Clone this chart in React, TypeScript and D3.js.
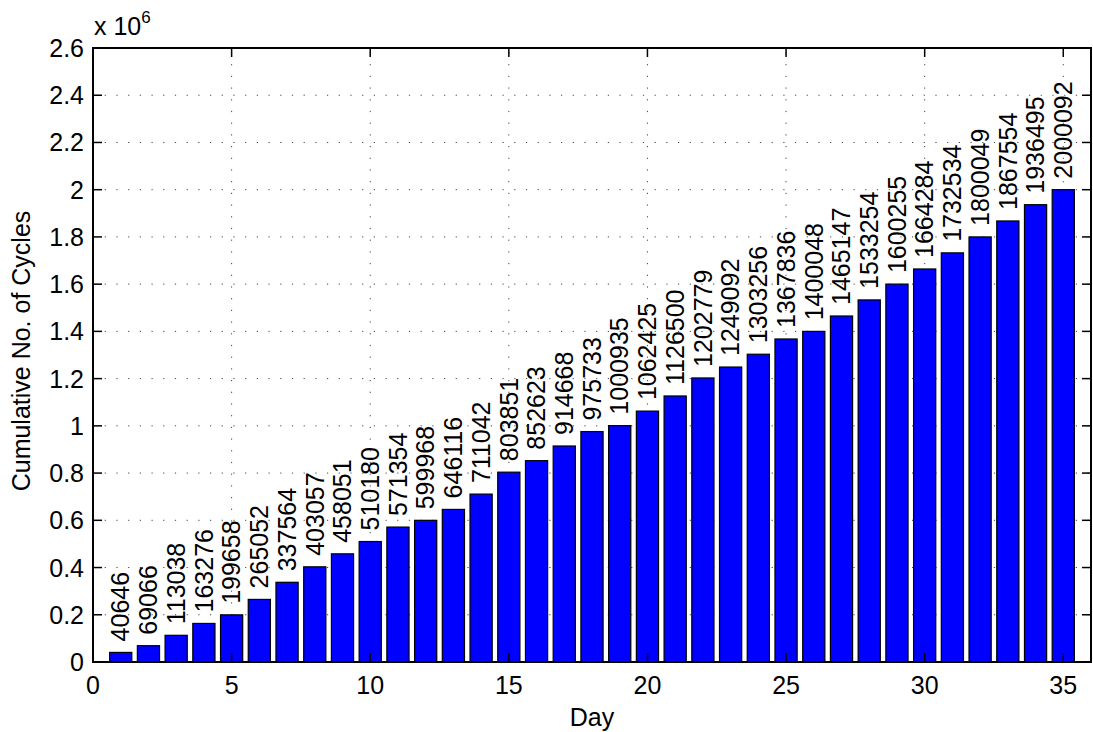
import React from "react";
import * as d3 from "d3";

// Cumulative cycle counts per day
const days: number[] = d3.range(1, 36);
const cycles: number[] = [
  40646, 69066, 113038, 163276, 199658, 265052, 337564, 403057, 458051, 510180,
  571354, 599968, 646116, 711042, 803851, 852623, 914668, 975733, 1000935, 1062425,
  1126500, 1202779, 1249092, 1303256, 1367836, 1400048, 1465147, 1533254, 1600255, 1664284,
  1732534, 1800049, 1867554, 1936495, 2000092,
];
const xTicks: number[] = [0, 5, 10, 15, 20, 25, 30, 35];
const yTicks: number[] = d3.range(0, 2.61, 0.2).map((v) => +v.toFixed(1));

const W = 1093;
const H = 732;
const M = { left: 93, right: 1091, top: 48, bottom: 662 };
const FONT = "'Liberation Sans', Arial, Helvetica, sans-serif";
const FS = 25;
const SCALE = 1e6;
const BAR_WIDTH = 0.8;

export default function App() {
  const x = d3.scaleLinear().domain([0, 36]).range([M.left, M.right]);
  const y = d3.scaleLinear().domain([0, 2.6]).range([M.bottom, M.top]);
  const halfBar = (x(BAR_WIDTH) - x(0)) / 2;
  const tickLen = 9;
  const gridStyle = { stroke: "#444", strokeWidth: 1, strokeDasharray: "1.2 10.5" };

  return (
    <svg
      width={W}
      height={H}
      style={{ position: "absolute", left: 0, top: 0, background: "#fff", display: "block" }}
      fontFamily={FONT}
    >
      <rect x={0} y={0} width={W} height={H} fill="#fff" />

      {/* dotted grid */}
      {xTicks.map((t) => (
        <line key={"gx" + t} x1={x(t)} x2={x(t)} y1={M.bottom} y2={M.top} style={gridStyle} />
      ))}
      {yTicks.map((t) => (
        <line key={"gy" + t} x1={M.left} x2={M.right} y1={y(t)} y2={y(t)} style={gridStyle} />
      ))}

      {/* bars */}
      {days.map((d, i) => (
        <rect
          key={"b" + d}
          x={x(d) - halfBar}
          y={y(cycles[i] / SCALE)}
          width={halfBar * 2}
          height={M.bottom - y(cycles[i] / SCALE)}
          fill="#0000ff"
          stroke="#000"
          strokeWidth={1.2}
        />
      ))}

      {/* value labels above bars */}
      {days.map((d, i) => {
        const px = x(d);
        const py = y(cycles[i] / SCALE) - 11;
        return (
          <text
            key={"l" + d}
            transform={`translate(${px},${py}) rotate(-90)`}
            fontSize={FS}
            dy="0.35em"
            textAnchor="start"
            fill="#000"
          >
            {cycles[i]}
          </text>
        );
      })}

      {/* axes box */}
      <rect
        x={M.left}
        y={M.top}
        width={M.right - M.left}
        height={M.bottom - M.top}
        fill="none"
        stroke="#000"
        strokeWidth={2}
      />

      {/* inward ticks on all sides */}
      {xTicks.map((t) => (
        <g key={"tx" + t}>
          <line x1={x(t)} x2={x(t)} y1={M.bottom} y2={M.bottom - tickLen} stroke="#000" strokeWidth={1.5} />
          <line x1={x(t)} x2={x(t)} y1={M.top} y2={M.top + tickLen} stroke="#000" strokeWidth={1.5} />
          <text x={x(t)} y={694} fontSize={FS} textAnchor="middle" fill="#000">
            {t}
          </text>
        </g>
      ))}
      {yTicks.map((t) => (
        <g key={"ty" + t}>
          <line x1={M.left} x2={M.left + tickLen} y1={y(t)} y2={y(t)} stroke="#000" strokeWidth={1.5} />
          <line x1={M.right} x2={M.right - tickLen} y1={y(t)} y2={y(t)} stroke="#000" strokeWidth={1.5} />
          <text x={M.left - 9} y={y(t)} dy="0.36em" fontSize={FS} textAnchor="end" fill="#000">
            {String(t)}
          </text>
        </g>
      ))}

      {/* exponent */}
      <text x={M.left + 1} y={35} fontSize={FS} fill="#000">
        x 10
        <tspan fontSize={17} dy={-12}>6</tspan>
      </text>

      {/* axis titles */}
      <text x={(M.left + M.right) / 2} y={726} fontSize={FS} textAnchor="middle" fill="#000">
        Day
      </text>
      <text
        transform={`translate(30,351) rotate(-90)`}
        fontSize={FS}
        textAnchor="middle"
        fill="#000"
      >
        Cumulative No. of Cycles
      </text>
    </svg>
  );
}
